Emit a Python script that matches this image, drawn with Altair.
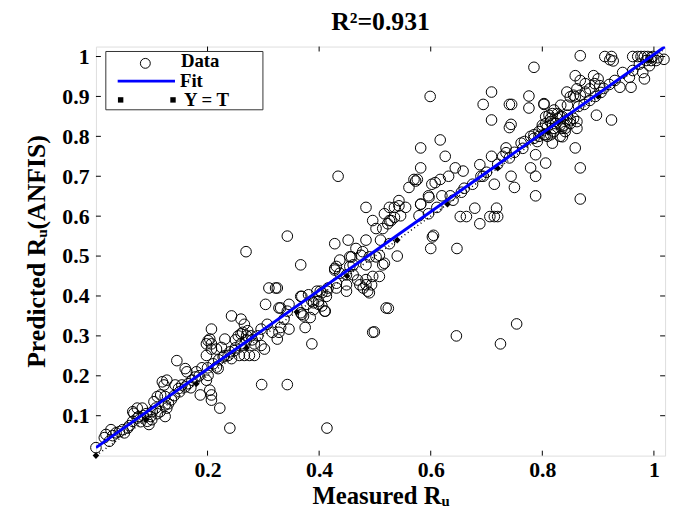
import altair as alt
import pandas as pd

# ---------------- data ----------------
measured = [
    0.0, 0.024, 0.015, 0.027, 0.018, 0.036, 0.048, 0.051, 0.057, 0.066, 0.074, 0.068, 0.066, 0.074, 0.083, 0.077,
    0.092, 0.095, 0.098, 0.101, 0.107, 0.104, 0.11, 0.116, 0.124, 0.124, 0.127, 0.124, 0.122, 0.119, 0.127, 0.142,
    0.148, 0.154, 0.16, 0.145, 0.16, 0.163, 0.172, 0.178, 0.187, 0.204, 0.207, 0.207, 0.222, 0.198, 0.201, 0.216,
    0.219, 0.198, 0.207, 0.204, 0.207, 0.207, 0.216, 0.225, 0.231, 0.228, 0.237, 0.243, 0.248, 0.257, 0.266, 0.275,
    0.284, 0.243, 0.26, 0.266, 0.272, 0.263, 0.278, 0.29, 0.284, 0.296, 0.302, 0.296,
    0.085, 0.09, 0.1, 0.08, 0.06, 0.11, 0.115, 0.03, 0.042, 0.13, 0.135, 0.14, 0.15, 0.165, 0.17, 0.18, 0.185, 0.19,
    0.2, 0.21, 0.22, 0.23, 0.24, 0.25, 0.26, 0.27, 0.28, 0.25, 0.255, 0.26, 0.27, 0.201, 0.198,
    0.307, 0.316, 0.328, 0.325, 0.331, 0.337, 0.346, 0.343, 0.328, 0.304, 0.31, 0.325, 0.346, 0.375, 0.367, 0.372,
    0.384, 0.378, 0.39, 0.399, 0.405, 0.41, 0.396, 0.405, 0.414, 0.387, 0.367, 0.428, 0.437, 0.431, 0.449, 0.449,
    0.461, 0.473, 0.479, 0.484, 0.49, 0.496, 0.508, 0.502, 0.484, 0.461, 0.455, 0.475, 0.514, 0.367, 0.269, 0.52,
    0.524,
    0.434, 0.343, 0.57, 0.573, 0.561, 0.596, 0.582, 0.602, 0.484, 0.526, 0.535, 0.543, 0.555, 0.543, 0.546, 0.517,
    0.526, 0.496, 0.502, 0.523, 0.579, 0.596, 0.6, 0.603, 0.428, 0.452, 0.484, 0.51, 0.526, 0.466, 0.458, 0.437,
    0.478, 0.49, 0.508, 0.517, 0.54, 0.431, 0.428, 0.455, 0.449, 0.496, 0.469, 0.484, 0.494, 0.431, 0.416, 0.487,
    0.413, 0.402, 0.381, 0.369, 0.387, 0.399, 0.411, 0.39, 0.369, 0.331, 0.322,
    0.414, 0.24, 0.297, 0.343, 0.499, 0.646, 0.725, 0.754,
    0.599, 0.694, 0.741, 0.745, 0.776, 0.776, 0.803, 0.709, 0.741, 0.744, 0.821, 0.833, 0.845, 0.85, 0.859, 0.868,
    0.806, 0.815, 0.827, 0.836, 0.845, 0.856, 0.862, 0.8, 0.809, 0.821, 0.832, 0.841, 0.85, 0.862, 0.785, 0.794,
    0.806, 0.779, 0.815, 0.818, 0.836, 0.841, 0.762, 0.768, 0.859, 0.868, 0.868, 0.788, 0.806, 0.779, 0.788, 0.75,
    0.788, 0.735, 0.729, 0.741, 0.735, 0.709, 0.688, 0.694, 0.714, 0.744, 0.617, 0.582, 0.626, 0.582, 0.576, 0.644,
    0.658, 0.632, 0.617, 0.608, 0.597, 0.582, 0.62, 0.635, 0.611, 0.605, 0.647, 0.679, 0.718, 0.653, 0.664, 0.706,
    0.714, 0.72, 0.688, 0.709,
    0.66, 0.675, 0.69, 0.7, 0.72, 0.75, 0.765, 0.64, 0.655, 0.535, 0.514, 0.529,
    0.868, 0.912, 0.921, 0.924, 0.927, 0.962, 0.971, 0.977, 0.983, 0.989, 0.995, 0.998, 1.007, 1.004, 0.995, 0.986,
    0.974, 0.992, 0.962, 0.98, 0.983, 1.018, 0.944, 0.956, 0.939, 0.959, 0.859, 0.868, 0.877, 0.892, 0.9, 0.903,
    0.894, 0.885, 0.877, 0.862, 0.844, 0.856, 0.803, 0.812, 0.818, 0.827, 0.832, 0.844, 0.806, 0.815, 0.824, 0.839,
    0.85, 0.794, 0.803, 0.809, 0.821, 0.832, 0.835, 0.8, 0.785, 0.791, 0.897, 0.924, 0.785,
    0.91, 0.905, 0.895, 0.885, 0.875, 0.865, 0.92, 0.93,
]
predicted = [
    0.02, 0.036, 0.045, 0.065, 0.053, 0.057, 0.065, 0.057, 0.069, 0.086, 0.094, 0.106, 0.11, 0.119, 0.119, 0.098,
    0.086, 0.078, 0.098, 0.11, 0.119, 0.135, 0.148, 0.152, 0.148, 0.127, 0.119, 0.098, 0.177, 0.185, 0.189, 0.177,
    0.168, 0.177, 0.172, 0.238, 0.218, 0.21, 0.189, 0.197, 0.152, 0.164, 0.152, 0.139, 0.119, 0.189, 0.201, 0.222,
    0.218, 0.251, 0.267, 0.292, 0.28, 0.317, 0.267, 0.271, 0.292, 0.247, 0.251, 0.243, 0.263, 0.251, 0.251, 0.251,
    0.251, 0.35, 0.342, 0.329, 0.313, 0.309, 0.3, 0.3, 0.28, 0.276, 0.267, 0.317,
    0.1, 0.105, 0.09, 0.085, 0.075, 0.105, 0.11, 0.05, 0.06, 0.13, 0.14, 0.15, 0.16, 0.18, 0.17, 0.21, 0.2, 0.22,
    0.22, 0.23, 0.24, 0.25, 0.26, 0.27, 0.28, 0.29, 0.29, 0.29, 0.3, 0.305, 0.3, 0.288, 0.28,
    0.329, 0.309, 0.309, 0.292, 0.321, 0.342, 0.317, 0.362, 0.37, 0.379, 0.42, 0.42, 0.379, 0.321, 0.358, 0.35,
    0.346, 0.379, 0.383, 0.387, 0.375, 0.362, 0.412, 0.408, 0.412, 0.28, 0.399, 0.469, 0.457, 0.432, 0.428, 0.412,
    0.453, 0.428, 0.42, 0.441, 0.408, 0.309, 0.449, 0.498, 0.478, 0.478, 0.498, 0.502, 0.478, 0.478, 0.511, 0.37,
    0.369,
    0.70, 0.55, 0.692, 0.688, 0.672, 0.651, 0.63, 0.68, 0.622, 0.622, 0.622, 0.626, 0.622, 0.639, 0.601, 0.606,
    0.589, 0.589, 0.569, 0.581, 0.601, 0.606, 0.519, 0.548, 0.531, 0.54, 0.54, 0.54, 0.531, 0.519, 0.498, 0.49,
    0.511, 0.498, 0.502, 0.482, 0.5, 0.474, 0.465, 0.474, 0.453, 0.449, 0.44, 0.428, 0.428, 0.42, 0.42, 0.412,
    0.399, 0.412, 0.403, 0.399, 0.387, 0.379, 0.362, 0.366, 0.354, 0.37, 0.42,
    0.069, 0.069, 0.178, 0.178, 0.31, 0.30, 0.28, 0.33,
    0.9, 0.88, 0.88, 0.88, 0.901, 0.871, 0.88, 0.841, 0.822, 0.83, 0.866, 0.878, 0.878, 0.899, 0.899, 0.903,
    0.849, 0.845, 0.845, 0.849, 0.853, 0.845, 0.837, 0.828, 0.824, 0.82, 0.828, 0.82, 0.832, 0.82, 0.804, 0.8,
    0.804, 0.8, 0.804, 0.783, 0.799, 0.812, 0.783, 0.787, 0.771, 0.721, 0.643, 0.754, 0.733, 0.721, 0.7, 0.672,
    0.651, 0.771, 0.75, 0.746, 0.759, 0.75, 0.729, 0.7, 0.68, 0.7, 0.791, 0.771, 0.75, 0.721, 0.692, 0.721,
    0.713, 0.7, 0.692, 0.684, 0.647, 0.63, 0.651, 0.651, 0.622, 0.552, 0.519, 0.62, 0.62, 0.599, 0.599, 0.599,
    0.599, 0.599, 0.581, 0.911,
    0.67, 0.68, 0.7, 0.71, 0.73, 0.76, 0.77, 0.64, 0.66, 0.597, 0.569, 0.589,
    1.002, 1.0, 0.992, 1.0, 0.989, 1.0, 1.0, 1.0, 1.0, 1.0, 0.997, 1.0, 0.997, 0.99, 0.99, 0.99,
    0.981, 0.977, 0.965, 0.96, 0.944, 0.993, 0.96, 0.948, 0.923, 0.923, 0.952, 0.94, 0.932, 0.952, 0.944, 0.927,
    0.932, 0.919, 0.911, 0.919, 0.911, 0.903, 0.882, 0.853, 0.857, 0.857, 0.849, 0.841, 0.832, 0.837, 0.832, 0.828,
    0.841, 0.812, 0.804, 0.8, 0.812, 0.8, 0.82, 0.82, 0.795, 0.787, 0.853, 0.841, 0.973,
    0.92, 0.91, 0.9, 0.89, 0.88, 0.875, 0.93, 0.94,
]
fit_x = [0.0, 1.02]
fit_y = [0.02, 1.025]
yt_marks = [0.0, 0.09, 0.18, 0.27, 0.36, 0.45, 0.54, 0.63, 0.72, 0.81, 0.90, 0.99]
yt_line = [0.0, 1.02]
x_ticks = [0.2, 0.4, 0.6, 0.8, 1.0]
y_ticks = [0.1, 0.2, 0.3, 0.4, 0.5, 0.6, 0.7, 0.8, 0.9, 1.0]
legend_labels = ["Data", "Fit", "Y = T"]

n = min(len(measured), len(predicted))
df = pd.DataFrame({"m": measured[:n], "p": predicted[:n]})
fit_df = pd.DataFrame({"m": fit_x, "p": fit_y})
yt_df = pd.DataFrame({"m": yt_marks, "p": yt_marks})
ytl_df = pd.DataFrame({"m": yt_line, "p": yt_line})
xt_df = pd.DataFrame({"m": x_ticks})
ytk_df = pd.DataFrame({"p": y_ticks})
one = pd.DataFrame({"a": [0]})

W, H = 576, 414
FONT = "Liberation Serif"
xs = alt.Scale(domain=[0, 1.02], nice=False, zero=False)
ys = alt.Scale(domain=[0, 1.025], nice=False, zero=False)

x_axis = alt.Axis(values=x_ticks, format=".1~f", title="Measured Rᵤ", grid=False, ticks=False,
                  domain=False, labelFont=FONT, labelFontSize=22, labelFontWeight="bold",
                  labelColor="black", labelPadding=4, titleFont=FONT, titleFontSize=25,
                  titleFontWeight="bold", titleColor="black", titlePadding=3)
y_axis = alt.Axis(values=y_ticks, format=".1~f", title="Predicted Rᵤ(ANFIS)", grid=False, ticks=False,
                  domain=False, labelFont=FONT, labelFontSize=22, labelFontWeight="bold",
                  labelColor="black", labelPadding=7, titleFont=FONT, titleFontSize=26,
                  titleFontWeight="bold", titleColor="black", titlePadding=13)


def X():
    return alt.X("m:Q", scale=xs, axis=x_axis, title="Measured Rᵤ")


def Y():
    return alt.Y("p:Q", scale=ys, axis=y_axis, title="Predicted Rᵤ(ANFIS)")


pts = alt.Chart(df).mark_point(shape="circle", filled=False, size=115, stroke="black",
                               strokeWidth=1, opacity=1).encode(x=X(), y=Y())
ytl = alt.Chart(ytl_df).mark_line(color="black", strokeWidth=1.5, strokeDash=[1, 3]).encode(x=X(), y=Y())
ytm = alt.Chart(yt_df).mark_point(shape="diamond", filled=True, size=45, color="black", opacity=1).encode(
    x=X(), y=Y())
fit = alt.Chart(fit_df).mark_line(color="#0000ff", strokeWidth=3, clip=True).encode(x=X(), y=Y())

tk = 5
tb = alt.Chart(xt_df).mark_rule(color="black", strokeWidth=1).encode(
    x=X(), y=alt.value(H), y2=alt.value(H - tk))
tt = alt.Chart(xt_df).mark_rule(color="black", strokeWidth=1).encode(
    x=X(), y=alt.value(0), y2=alt.value(tk))
tl = alt.Chart(ytk_df).mark_rule(color="black", strokeWidth=1).encode(
    y=Y(), x=alt.value(0), x2=alt.value(tk))
tr = alt.Chart(ytk_df).mark_rule(color="black", strokeWidth=1).encode(
    y=Y(), x=alt.value(W), x2=alt.value(W - tk))

# legend box
lg_box = alt.Chart(one).mark_rect(fill="white", stroke="#333333", strokeWidth=1).encode(
    x=alt.value(10), x2=alt.value(169), y=alt.value(5), y2=alt.value(64))
lg_circ = alt.Chart(one).mark_point(shape="circle", filled=False, size=100, stroke="black",
                                    strokeWidth=1, opacity=1).encode(x=alt.value(50), y=alt.value(17))
lg_line = alt.Chart(one).mark_rule(color="#0000ff", strokeWidth=3).encode(
    x=alt.value(22), x2=alt.value(80), y=alt.value(35))
lg_sq1 = alt.Chart(one).mark_square(size=30, color="black", opacity=1).encode(
    x=alt.value(25), y=alt.value(54))
lg_sq2 = alt.Chart(one).mark_square(size=30, color="black", opacity=1).encode(
    x=alt.value(78), y=alt.value(54))
lg_t1 = alt.Chart(one).mark_text(align="left", baseline="middle", font=FONT, fontSize=19,
                                 fontWeight="bold", color="black").encode(
    x=alt.value(86), y=alt.value(15), text=alt.value(legend_labels[0]))
lg_t2 = alt.Chart(one).mark_text(align="left", baseline="middle", font=FONT, fontSize=19,
                                 fontWeight="bold", color="black").encode(
    x=alt.value(85), y=alt.value(35), text=alt.value(legend_labels[1]))
lg_t3 = alt.Chart(one).mark_text(align="left", baseline="middle", font=FONT, fontSize=19,
                                 fontWeight="bold", color="black").encode(
    x=alt.value(89), y=alt.value(54), text=alt.value(legend_labels[2]))

chart = alt.layer(pts, ytl, ytm, fit, tb, tt, tl, tr, lg_box, lg_circ, lg_line, lg_sq1, lg_sq2,
                  lg_t1, lg_t2, lg_t3).properties(
    width=W, height=H,
    title=alt.TitleParams("R²=0.931", font=FONT, fontSize=26, fontWeight="bold", color="black",
                          anchor="middle", offset=11),
    padding={"left": 89, "top": 36, "right": 6, "bottom": 50},
    autosize=alt.AutoSizeParams(type="none"),
).configure_view(stroke="#222222", strokeWidth=2).configure(background="white")

chart.save("out.html", embed_options={"renderer": "svg", "actions": False})
